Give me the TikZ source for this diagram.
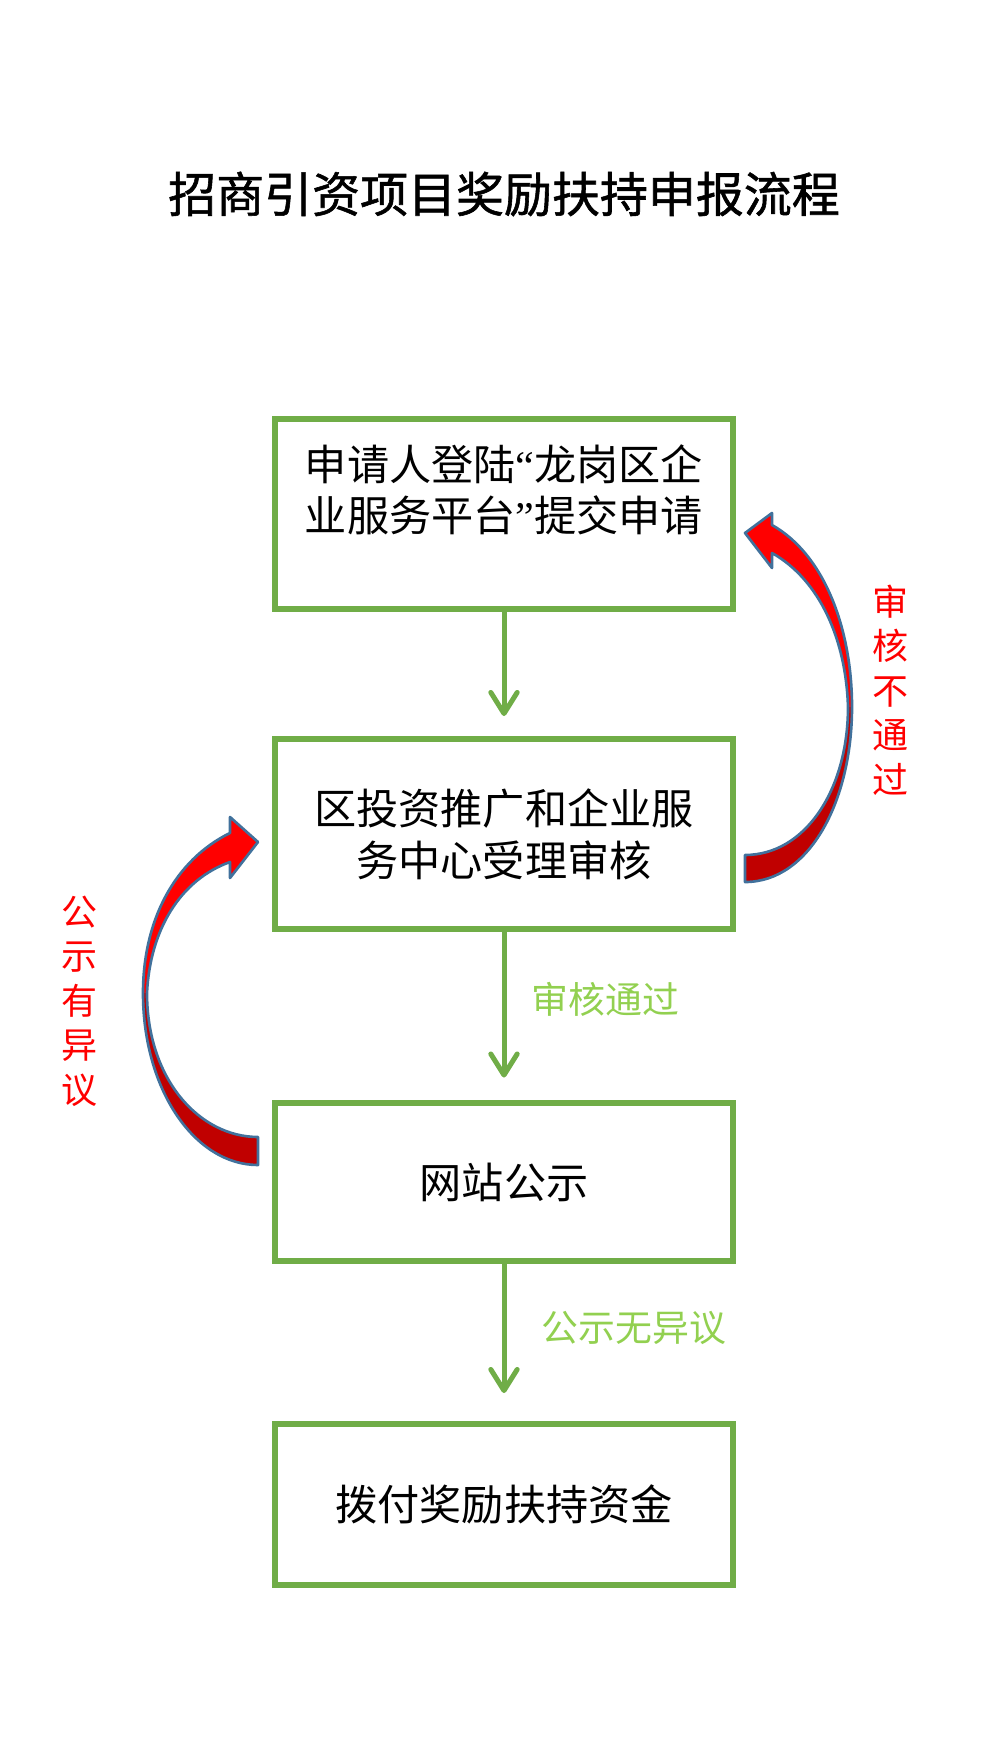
\documentclass[tikz,border=0pt]{standalone}
\usepackage{fontspec}
\setmainfont{Noto Sans CJK SC}
\newfontfamily\titlefont[FakeBold=1.2]{Noto Sans CJK SC}
\newfontfamily\quotefont{Liberation Serif}
\newcommand{\qopen}{{\quotefont “}}
\newcommand{\qclose}{{\quotefont ”}}
\usetikzlibrary{positioning, calc, arrows.meta}
\definecolor{BoxGreen}{HTML}{70AD47}
\definecolor{PassGreen}{HTML}{92D050}
\definecolor{BendRed}{HTML}{FF0000}
\definecolor{BendDark}{HTML}{C00000}
\definecolor{BendEdge}{HTML}{41719C}
\tikzset{
    flowbox/.style={rectangle, draw=BoxGreen, line width=3.4pt, fill=white, minimum width=9.16cm, align=center, text=black, font=\fontsize{24}{29.5}\selectfont},
    flowarrow/.style={-{Straight Barb[length=12pt, width=15pt, round]}, line width=2.85pt, color=BoxGreen, shorten >=0.45cm},
    passlabel/.style={inner sep=0pt, text=PassGreen, font=\fontsize{21}{25}\selectfont},
    faillabel/.style={inner sep=0pt, text=BendRed, align=center, font=\fontsize{20.5}{25.3}\selectfont},
    bendup/.style={fill=BendRed},
    benddown/.style={fill=BendDark},
    bendedge/.style={draw=BendEdge, line width=1.5pt, line join=round},
}

\begin{document}
\begin{tikzpicture}[x=0.02cm, y=-0.02cm]
    \useasboundingbox (0,0) rectangle (990,1760);

    % Titolo
    \node[font=\titlefont\fontsize{27.3}{32}\selectfont] (title) at (504,194) {招商引资项目奖励扶持申报流程};

    % Caselle del flusso
    \node[flowbox, minimum height=3.8cm] (req) at (504,514) {申请人登陆\qopen 龙岗区企\\业服务平台\qclose 提交申请\\\mbox{}};
    \node[flowbox, minimum height=3.8cm] (rev) at (504,834) {区投资推广和企业服\\务中心受理审核};
    \node[flowbox, minimum height=3.16cm] (pub) at (504,1182) {网站公示};
    \node[flowbox, minimum height=3.22cm] (pay) at (504,1504.5) {拨付奖励扶持资金};

    % Frecce verdi
    \draw[flowarrow, shorten >=0.4cm] (req) -- (rev);
    \draw[flowarrow] (rev) -- (pub) node[pos=0.4, right=0.5cm, passlabel] (passlbl) {审核通过};
    \draw[flowarrow, shorten >=0.56cm] (pub) -- (pay) node[pos=0.41, right=0.7cm, passlabel] (nooblbl) {公示无异议};

    % Freccia curva a destra (ritorno)
    \fill[bendup] (745,533) -- (772,513) -- (772,525) .. controls (825,555) and (852,630) .. (852,707)
        -- (848,707) .. controls (846,640) and (820,580) .. (772,553) -- (772,568) -- cycle;
    \fill[benddown] (852,707) .. controls (852,800) and (810,882) .. (745,882) -- (745,855)
        .. controls (805,855) and (848,790) .. (848,707) -- cycle;
    \draw[bendedge] (745,533) -- (772,513) -- (772,525) .. controls (825,555) and (852,630) .. (852,707)
        .. controls (852,800) and (810,882) .. (745,882) -- (745,855)
        .. controls (805,855) and (848,790) .. (848,707) .. controls (846,640) and (820,580) .. (772,553)
        -- (772,568) -- cycle;
    \node[faillabel] (faillbl) at (890,690) {审\\核\\不\\通\\过};

    % Freccia curva a sinistra (obiezione)
    \fill[bendup] (258,842) -- (230,817) -- (230,833) .. controls (175,860) and (143,920) .. (143,993)
        -- (147,993) .. controls (150,930) and (180,880) .. (230,862) -- (230,878) -- cycle;
    \fill[benddown] (143,993) .. controls (143,1090) and (195,1165) .. (258,1165) -- (258,1137)
        .. controls (200,1137) and (147,1080) .. (147,993) -- cycle;
    \draw[bendedge] (258,842) -- (230,817) -- (230,833) .. controls (175,860) and (143,920) .. (143,993)
        .. controls (143,1090) and (195,1165) .. (258,1165) -- (258,1137)
        .. controls (200,1137) and (147,1080) .. (147,993) .. controls (150,930) and (180,880) .. (230,862)
        -- (230,878) -- cycle;
    \node[faillabel] (objlbl) at (80,1001) {公\\示\\有\\异\\议};
\end{tikzpicture}
\end{document}
